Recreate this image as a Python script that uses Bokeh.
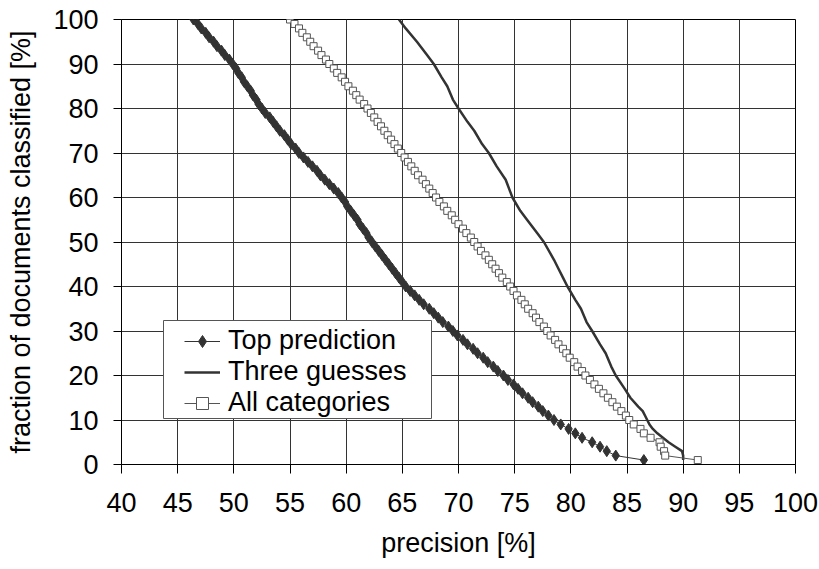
from bokeh.plotting import figure
from bokeh.models import Range1d, FixedTicker, Legend, LegendItem, BoxAnnotation
from bokeh.embed import file_html
from bokeh.resources import INLINE

# ---- data ----
fraction = list(range(100, 0, -1))

top_prediction = [
    46.4, 46.8, 47.1, 47.5, 47.8, 48.2, 48.5, 48.9, 49.2, 49.6,
    49.9, 50.2, 50.4, 50.7, 50.9, 51.2, 51.5, 51.7, 52.0, 52.2,
    52.5, 52.8, 53.2, 53.5, 53.8, 54.1, 54.5, 54.8, 55.1, 55.5,
    55.8, 56.2, 56.6, 57.0, 57.4, 57.7, 58.1, 58.5, 58.9, 59.3,
    59.6, 59.9, 60.1, 60.4, 60.7, 61.0, 61.2, 61.5, 61.8, 62.0,
    62.3, 62.6, 62.9, 63.2, 63.5, 63.8, 64.1, 64.4, 64.7, 65.0,
    65.3, 65.7, 66.1, 66.5, 66.9, 67.4, 67.8, 68.2, 68.6, 69.1,
    69.5, 69.9, 70.4, 70.8, 71.3, 71.7, 72.2, 72.6, 73.1, 73.5,
    74.0, 74.4, 74.9, 75.3, 75.7, 76.2, 76.6, 77.1, 77.5, 78.0,
    78.5, 79.1, 79.8, 80.4, 81.0, 81.9, 82.6, 83.2, 84.0, 86.5,
]

all_categories = [
    55.0, 55.4, 55.8, 56.1, 56.5, 56.8, 57.1, 57.5, 57.8, 58.2,
    58.5, 58.9, 59.2, 59.6, 59.9, 60.2, 60.6, 60.9, 61.2, 61.6,
    61.9, 62.2, 62.5, 62.8, 63.1, 63.4, 63.7, 64.0, 64.3, 64.6,
    64.9, 65.2, 65.5, 65.8, 66.1, 66.4, 66.8, 67.1, 67.4, 67.7,
    68.0, 68.3, 68.7, 69.0, 69.4, 69.7, 70.0, 70.4, 70.7, 71.1,
    71.4, 71.7, 72.0, 72.4, 72.7, 73.0, 73.3, 73.6, 73.9, 74.3,
    74.6, 74.9, 75.2, 75.6, 75.9, 76.2, 76.6, 76.9, 77.2, 77.6,
    77.9, 78.2, 78.6, 78.9, 79.3, 79.6, 79.9, 80.3, 80.6, 81.0,
    81.3, 81.7, 82.1, 82.5, 82.9, 83.3, 83.7, 84.1, 84.5, 84.9,
    85.2, 85.6, 86.2, 86.5, 87.1, 87.9, 88.0, 88.3, 88.4, 91.3,
]

three_fraction = [100, 98, 95, 92, 90, 87, 85, 82, 80, 77, 75, 72, 70, 67, 64,
                  62, 60, 57, 55, 52, 50, 46, 44, 42, 40, 37, 35, 32, 30, 27,
                  25, 22, 20, 17, 15, 13, 12, 11, 10, 9, 8, 7, 6, 5, 4, 3, 2, 1]
three_guesses = [64.7, 65.3, 66.3, 67.2, 67.8, 68.5, 69.0, 69.5, 70.0, 70.8,
                 71.4, 72.1, 72.7, 73.4, 74.2, 74.5, 74.8, 75.5, 76.1, 77.0,
                 77.6, 78.5, 78.9, 79.3, 79.7, 80.4, 80.9, 81.4, 81.9, 82.6,
                 83.1, 83.6, 84.0, 84.8, 85.3, 86.0, 86.4, 86.6, 86.8, 87.0,
                 87.3, 87.7, 88.2, 88.7, 89.3, 89.9, 90.0, 90.0]

x_ticks = list(range(40, 101, 5))
y_ticks = list(range(0, 101, 10))

FONT = "Liberation Sans"
FS = "27px"

p = figure(width=819, height=569, output_backend="svg", toolbar_location=None,
           x_range=Range1d(40, 100), y_range=Range1d(0, 100),
           min_border_left=121, min_border_right=24, min_border_top=19,
           min_border_bottom=105)

p.outline_line_color = "black"
p.outline_line_width = 1

for ax in (p.xaxis[0], p.yaxis[0]):
    ax.major_label_text_font = FONT
    ax.major_label_text_font_size = FS
    ax.major_label_text_color = "black"
    ax.axis_label_text_font = FONT
    ax.axis_label_text_font_size = FS
    ax.axis_label_text_font_style = "normal"
    ax.axis_label_text_color = "black"
    ax.axis_line_color = "black"
    ax.major_tick_line_color = "black"
    ax.major_tick_in = 0
    ax.minor_tick_line_color = None

p.xaxis.ticker = FixedTicker(ticks=x_ticks)
p.yaxis.ticker = FixedTicker(ticks=y_ticks)
p.xaxis.major_tick_out = 9
p.yaxis.major_tick_out = 8
p.xaxis.major_label_standoff = 19
p.yaxis.major_label_standoff = 15
p.xaxis.axis_label = "precision [%]"
p.xaxis.axis_label_standoff = 13
p.yaxis.axis_label = "fraction of documents classified [%]"
p.yaxis.axis_label_standoff = 14

p.xgrid.ticker = FixedTicker(ticks=x_ticks)
p.ygrid.ticker = FixedTicker(ticks=y_ticks)
p.grid.grid_line_color = "#333333"
p.grid.grid_line_width = 1

r_top = p.line(top_prediction, fraction, line_color="#333333", line_width=1)
r_top_m = p.scatter(top_prediction, fraction, marker="diamond", size=11,
                    fill_color="#333333", line_color="#333333")

r_three = p.line(three_guesses, three_fraction, line_color="#333333", line_width=2.5)

r_all = p.line(all_categories, fraction, line_color="#555555", line_width=1)
r_all_m = p.scatter(all_categories, fraction, marker="square", size=7,
                    fill_color="white", line_color="#555555", line_width=1)

# legend frame (drawn separately so the entries can sit inset like the original)
box = BoxAnnotation(left=42, right=310, bottom=46, top=144,
                    left_units="screen", right_units="screen",
                    bottom_units="screen", top_units="screen",
                    fill_color="white", fill_alpha=1,
                    line_color="#555555", line_width=1, line_alpha=1)
p.add_layout(box)

legend = Legend(items=[
    LegendItem(label="Top prediction", renderers=[r_top, r_top_m]),
    LegendItem(label="Three guesses", renderers=[r_three]),
    LegendItem(label="All categories", renderers=[r_all, r_all_m]),
], location=(63, 46))
legend.label_text_font = FONT
legend.label_text_font_size = FS
legend.label_text_color = "black"
legend.border_line_color = None
legend.background_fill_alpha = 0
legend.padding = 4
legend.spacing = 0
legend.margin = 0
legend.glyph_width = 36
legend.glyph_height = 30
legend.label_height = 30
legend.label_standoff = 8
p.add_layout(legend)

open("out.html", "w").write(file_html(p, INLINE))
